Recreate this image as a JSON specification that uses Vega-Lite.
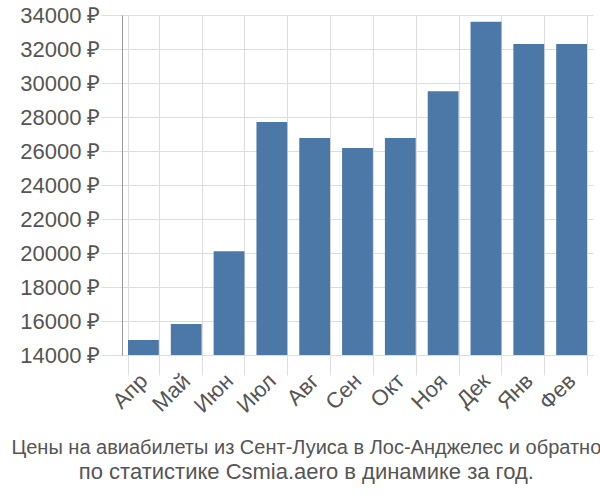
{
  "$schema": "https://vega.github.io/schema/vega-lite/v6.json",
  "width": 471,
  "height": 340,
  "autosize": "none",
  "padding": {"left": 122, "top": 15, "right": 7, "bottom": 145},
  "background": "white",
  "title": {
    "text": "Цены на авиабилеты из Сент-Луиса в Лос-Анджелес и обратно",
    "subtitle": "по статистике Csmia.aero в динамике за год.",
    "orient": "bottom",
    "anchor": "middle",
    "frame": "bounds",
    "font": "Liberation Sans",
    "fontSize": 20,
    "fontWeight": "normal",
    "color": "#555555",
    "subtitleFont": "Liberation Sans",
    "subtitleFontSize": 22,
    "subtitleColor": "#555555",
    "subtitlePadding": 4,
    "offset": 22
  },
  "data": {
    "values": [
      {"month": "Апр", "price": 14880},
      {"month": "Май", "price": 15830},
      {"month": "Июн", "price": 20100},
      {"month": "Июл", "price": 27700},
      {"month": "Авг", "price": 26770},
      {"month": "Сен", "price": 26180},
      {"month": "Окт", "price": 26770},
      {"month": "Ноя", "price": 29520},
      {"month": "Дек", "price": 33600},
      {"month": "Янв", "price": 32300},
      {"month": "Фев", "price": 32300}
    ]
  },
  "mark": {"type": "bar", "color": "#4c78a8", "clip": true},
  "encoding": {
    "x": {
      "field": "month",
      "type": "nominal",
      "sort": null,
      "scale": {"paddingInner": 0.28, "paddingOuter": 0.14},
      "axis": {
        "title": null,
        "labelAngle": -45,
        "labelAlign": "right",
        "labelBaseline": "middle",
        "labelFont": "Liberation Sans",
        "labelFontSize": 22,
        "labelColor": "#555555",
        "labelPadding": 2,
        "tickBand": "extent",
        "tickSize": 20,
        "tickColor": "#dddddd",
        "grid": true,
        "gridColor": "#dddddd",
        "domainColor": "#dddddd"
      }
    },
    "y": {
      "field": "price",
      "type": "quantitative",
      "scale": {"domain": [14000, 34000], "nice": false, "zero": false},
      "axis": {
        "title": null,
        "values": [14000, 16000, 18000, 20000, 22000, 24000, 26000, 28000, 30000, 32000, 34000],
        "labelExpr": "datum.value + ' ₽'",
        "labelFont": "Liberation Sans",
        "labelFontSize": 22,
        "labelColor": "#555555",
        "labelPadding": 1,
        "tickSize": 21,
        "tickColor": "#dddddd",
        "gridColor": "#dddddd",
        "domainColor": "#999999"
      }
    }
  },
  "config": {"view": {"stroke": null}}
}
